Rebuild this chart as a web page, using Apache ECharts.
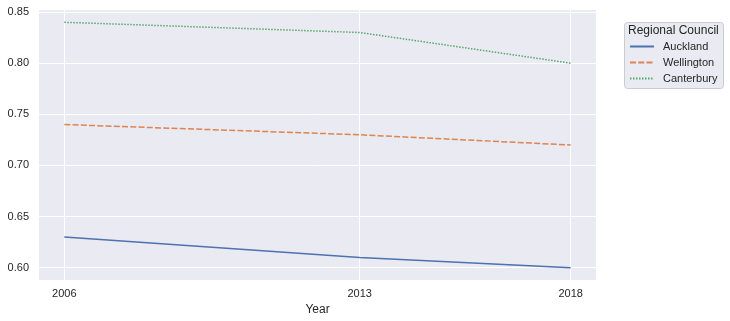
<!DOCTYPE html>
<html>
<head>
<meta charset="utf-8">
<script src="https://cdn.jsdelivr.net/npm/echarts@6/dist/echarts.min.js"></script>
<style>html,body{margin:0;padding:0;background:#fff}#c{width:730px;height:321px}</style>
</head>
<body>
<div id="c"></div>
<script>
const years = [2006, 2013, 2018];
const auckland = [0.63, 0.61, 0.60];
const wellington = [0.74, 0.73, 0.72];
const canterbury = [0.84, 0.83, 0.80];
const xTicks = [2006, 2013, 2018];
const yTicks = [0.60, 0.65, 0.70, 0.75, 0.80, 0.85];
const seriesNames = ['Auckland', 'Wellington', 'Canterbury'];
const legendTitle = 'Regional Council';
const xLabel = 'Year';

const font = 'Liberation Sans, Arial, sans-serif';
const txt = '#262626';
const pair = (vals) => years.map((y, i) => [y, vals[i]]);

const chart = echarts.init(document.getElementById('c'), null, {renderer: 'canvas'});
chart.setOption({
  animation: false,
  backgroundColor: '#ffffff',
  grid: {left: 39, right: 134, top: 10, bottom: 41, show: true, backgroundColor: '#EAEAF2', borderWidth: 0},
  xAxis: {
    type: 'value', min: 2005.4, max: 2018.6,
    name: xLabel, nameLocation: 'middle', nameGap: 24,
    nameTextStyle: {color: txt, fontSize: 12, fontFamily: font},
    axisLine: {show: false}, axisTick: {show: false, customValues: xTicks},
    axisLabel: {customValues: xTicks, color: txt, fontSize: 11, fontFamily: font, margin: 8, formatter: v => String(v)},
    splitLine: {show: true, lineStyle: {color: '#ffffff', width: 1}}
  },
  yAxis: {
    type: 'value', min: 0.588, max: 0.852,
    axisLine: {show: false}, axisTick: {show: false, customValues: yTicks},
    axisLabel: {customValues: yTicks, color: txt, fontSize: 11, fontFamily: font, margin: 10, formatter: v => v.toFixed(2)},
    splitLine: {show: true, lineStyle: {color: '#ffffff', width: 1}}
  },
  legend: {
    orient: 'vertical', left: 629, top: 41, padding: 0,
    itemWidth: 24, itemHeight: 10, itemGap: 5,
    itemStyle: {opacity: 0},
    textStyle: {color: txt, fontSize: 11, fontFamily: font, padding: [0, 0, 0, 4]},
    data: seriesNames
  },
  graphic: [
    {type: 'rect', left: 624, top: 22, z: -1, shape: {width: 99, height: 66, r: 3},
     style: {fill: '#EAEAF2', stroke: '#cccccc', lineWidth: 1}},
    {type: 'text', left: 628, top: 25, style: {text: legendTitle, fill: txt, fontSize: 12, fontFamily: font}}
  ],
  series: [
    {name: seriesNames[0], type: 'line', data: pair(auckland), symbol: 'none', color: '#4C72B0',
     lineStyle: {width: 1.5, type: 'solid'}},
    {name: seriesNames[1], type: 'line', data: pair(wellington), symbol: 'none', color: '#DD8452',
     lineStyle: {width: 1.5, type: [6, 2.25]}},
    {name: seriesNames[2], type: 'line', data: pair(canterbury), symbol: 'none', color: '#55A868',
     lineStyle: {width: 1.5, type: [1.5, 1.5]}}
  ]
});
</script>
</body>
</html>
